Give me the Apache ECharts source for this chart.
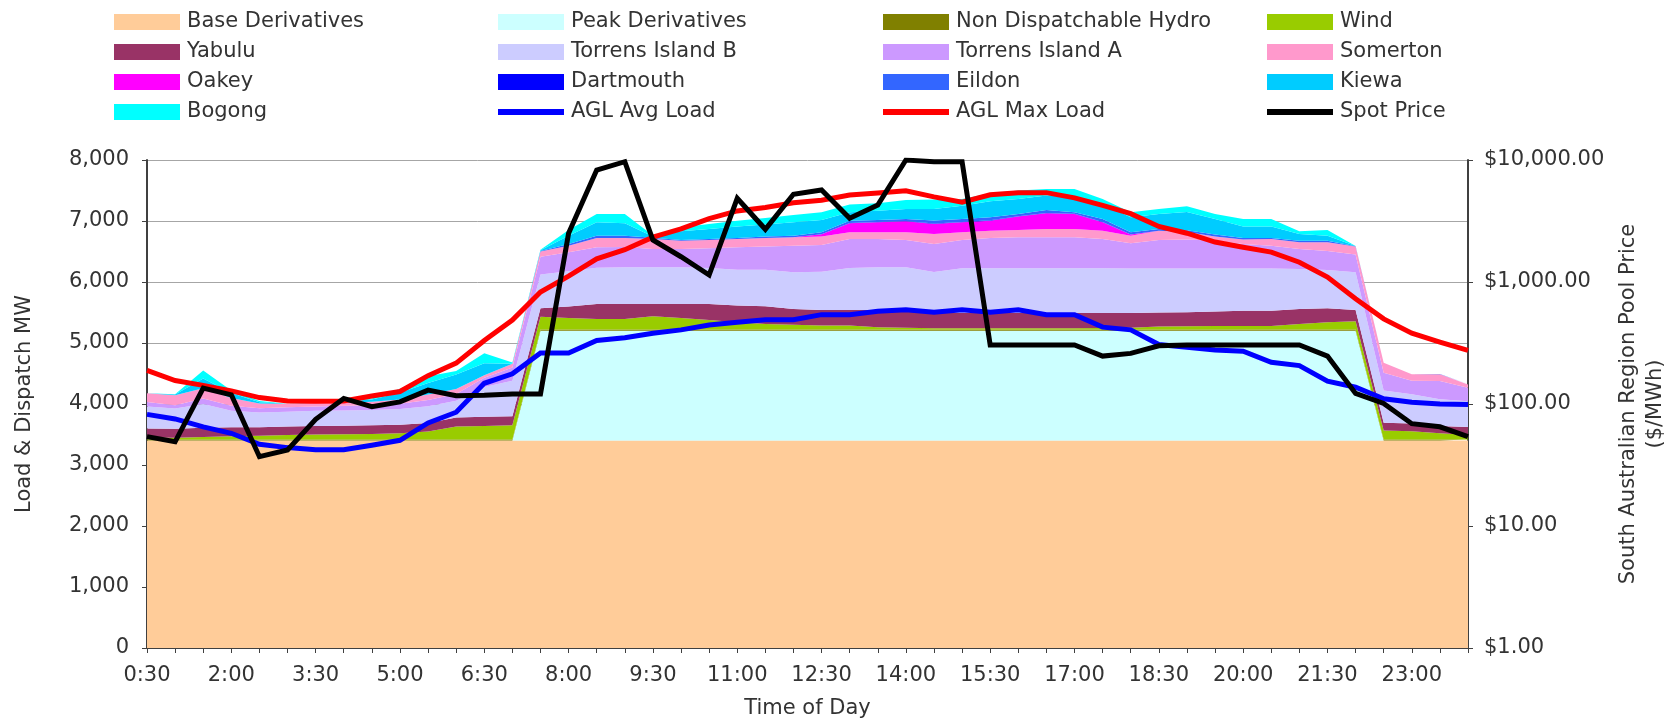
<!DOCTYPE html>
<html>
<head>
<meta charset="utf-8">
<script src="https://cdn.jsdelivr.net/npm/echarts@6/dist/echarts.min.js"></script>
<style>
html,body{margin:0;padding:0;background:#fff;}
#chart{width:1665px;height:720px;}
</style>
</head>
<body>
<div id="chart"></div>
<script>
const categories = ["0:30","1:00","1:30","2:00","2:30","3:00","3:30","4:00","4:30","5:00","5:30","6:00","6:30","7:00","7:30","8:00","8:30","9:00","9:30","10:00","10:30","11:00","11:30","12:00","12:30","13:00","13:30","14:00","14:30","15:00","15:30","16:00","16:30","17:00","17:30","18:00","18:30","19:00","19:30","20:00","20:30","21:00","21:30","22:00","22:30","23:00","23:30","0:00"];

const baseDerivatives = [3400,3400,3400,3400,3400,3400,3400,3400,3400,3400,3400,3400,3400,3400,3400,3400,3400,3400,3400,3400,3400,3400,3400,3400,3400,3400,3400,3400,3400,3400,3400,3400,3400,3400,3400,3400,3400,3400,3400,3400,3400,3400,3400,3400,3400,3400,3400,3400];
const peakDerivatives = [0,0,0,0,0,0,0,0,0,0,0,0,0,0,1800,1800,1800,1800,1800,1800,1800,1800,1800,1800,1800,1800,1800,1800,1800,1800,1800,1800,1800,1800,1800,1800,1800,1800,1800,1800,1800,1800,1800,1800,0,0,0,0];
const nonDispatchableHydro = [20,20,20,20,20,20,20,20,20,20,20,20,20,20,20,20,20,20,20,20,20,20,20,20,20,20,20,20,20,20,20,20,20,20,20,20,20,20,20,20,20,20,20,20,20,20,20,20];
const wind = [30,25,40,50,60,70,80,85,90,100,130,210,220,230,210,190,175,175,220,190,158,120,92,81,65,65,38,30,20,20,20,20,20,20,25,30,50,55,60,60,60,92,120,136,145,135,100,70];
const yabulu = [150,150,150,150,140,140,140,140,140,140,140,150,150,150,140,190,245,245,200,230,262,273,290,257,257,257,284,270,250,250,250,250,250,250,245,240,230,230,235,250,250,246,229,186,126,126,120,131];
const torrensIslandB = [360,330,390,270,240,245,250,250,250,260,274,275,490,580,555,576,595,601,601,601,590,587,598,602,628,688,698,720,675,735,735,735,735,735,735,730,720,715,705,690,690,656,629,617,530,480,437,426];
const torrensIslandA = [71,55,90,80,70,70,70,75,80,85,100,110,150,220,290,311,334,334,300,301,323,369,380,436,437,476,466,449,459,464,497,508,508,508,481,415,469,475,458,404,376,328,310,290,290,219,300,219];
const somerton = [147,164,170,130,80,60,60,50,55,70,90,80,40,60,85,109,153,147,165,136,136,137,142,137,137,109,109,126,164,126,120,120,137,137,136,125,153,126,66,71,110,109,143,131,164,109,109,55];
const oakey = [0,0,0,0,0,0,0,0,0,0,0,0,0,0,0,0,0,0,0,0,0,0,0,0,40,148,165,180,164,164,164,219,257,245,137,17,0,0,0,0,0,0,0,0,0,0,0,0];
const dartmouth = [0,0,0,0,0,0,0,0,0,0,0,0,0,0,0,0,0,0,0,0,0,0,0,0,0,5,5,5,5,5,5,5,5,5,5,0,0,0,0,0,0,0,0,0,0,0,0,0];
const eildon = [0,0,0,0,0,0,0,0,0,0,0,0,0,0,10,28,38,38,20,12,17,16,22,27,31,38,32,33,50,49,50,38,49,23,49,38,28,27,33,27,16,27,27,5,0,0,5,5];
const kiewa = [0,10,160,80,20,0,10,20,40,110,190,240,200,0,10,136,219,203,20,142,164,186,197,219,202,137,153,164,191,219,262,247,235,246,247,246,245,301,256,186,186,110,82,5,0,0,0,0];
const bogong = [0,5,130,40,20,0,0,0,15,65,110,55,160,20,10,93,137,153,15,65,82,98,109,120,126,126,121,148,154,110,131,136,109,136,82,82,82,93,82,125,125,44,93,0,0,0,0,0];

const aglAvgLoad = [3830,3755,3625,3520,3340,3285,3250,3250,3325,3405,3690,3865,4340,4495,4835,4835,5040,5085,5160,5215,5295,5340,5380,5380,5465,5465,5520,5545,5505,5545,5505,5545,5465,5465,5260,5215,4975,4930,4885,4865,4685,4630,4375,4275,4085,4030,4000,3990];
const aglMaxLoad = [4550,4385,4305,4215,4105,4050,4045,4050,4130,4205,4465,4670,5040,5375,5835,6095,6380,6530,6735,6870,7040,7165,7220,7300,7340,7425,7460,7495,7395,7310,7430,7465,7465,7380,7255,7120,6910,6800,6655,6570,6490,6325,6080,5725,5395,5160,5015,4880];
const spotPrice = [54,49,135,119,37,42,75,111,95,104,130,117,118,121,121,2506,8280,9680,2209,1611,1141,4854,2704,5236,5680,3326,4276,10000,9680,9680,305,305,305,305,247,260,300,305,305,305,305,305,247,122,101,69,65,54];

const leftTickLabels = ["0","1,000","2,000","3,000","4,000","5,000","6,000","7,000","8,000"];
const priceTickValues = [1,10,100,1000,10000];
const priceTickLabels = ["$1.00","$10.00","$100.00","$1,000.00","$10,000.00"];

const FONT = 'DejaVu Sans';
const TXT = '#333333';
const AXIS = '#404040';

const areaDefs = [
  ['Base Derivatives', baseDerivatives, '#FFCC99'],
  ['Peak Derivatives', peakDerivatives, '#CCFFFF'],
  ['Non Dispatchable Hydro', nonDispatchableHydro, '#808000'],
  ['Wind', wind, '#99CC00'],
  ['Yabulu', yabulu, '#993366'],
  ['Torrens Island B', torrensIslandB, '#CCCCFF'],
  ['Torrens Island A', torrensIslandA, '#CC99FF'],
  ['Somerton', somerton, '#FF99CC'],
  ['Oakey', oakey, '#FF00FF'],
  ['Dartmouth', dartmouth, '#0000FF'],
  ['Eildon', eildon, '#3366FF'],
  ['Kiewa', kiewa, '#00CCFF'],
  ['Bogong', bogong, '#00FFFF']
];
const lineDefs = [
  ['AGL Avg Load', aglAvgLoad, '#0000FF', 0],
  ['AGL Max Load', aglMaxLoad, '#FF0000', 0],
  ['Spot Price', spotPrice, '#000000', 1]
];

const series = [];
areaDefs.forEach(([name, data, color]) => {
  series.push({
    name, type: 'line', stack: 'dispatch', data,
    symbol: 'none', smooth: false,
    itemStyle: {color},
    lineStyle: {width: 0, color},
    areaStyle: {color, opacity: 1},
    emphasis: {disabled: true},
    z: 2
  });
});
lineDefs.forEach(([name, data, color, axis]) => {
  series.push({
    name, type: 'line', data, yAxisIndex: axis,
    symbol: 'none', smooth: false,
    itemStyle: {color},
    lineStyle: {width: 5, color, join: 'miter'},
    emphasis: {disabled: true},
    z: 5
  });
});

const lineIcon = 'path://M0,0L66,0L66,6L0,6Z';
const legendCols = [
  ['Base Derivatives','Yabulu','Oakey','Bogong'],
  ['Peak Derivatives','Torrens Island B','Dartmouth','AGL Avg Load'],
  ['Non Dispatchable Hydro','Torrens Island A','Eildon','AGL Max Load'],
  ['Wind','Somerton','Kiewa','Spot Price']
];
const lineNames = lineDefs.map(d => d[0]);
const legendLefts = [114, 498, 883, 1267];
const legends = legendCols.map((col, i) => ({
  orient: 'vertical',
  left: legendLefts[i],
  top: 11,
  padding: 0,
  itemWidth: 66,
  itemHeight: 16,
  itemGap: 8,
  selectedMode: false,
  itemStyle: {borderWidth: 0},
  textStyle: {fontFamily: FONT, fontSize: 21, color: TXT, lineHeight: 22, padding: [0,0,0,2]},
  data: col.map(n => ({name: n, icon: lineNames.includes(n) ? lineIcon : 'rect'}))
}));

const chart = echarts.init(document.getElementById('chart'), null, {renderer: 'canvas'});
chart.setOption({
  animation: false,
  backgroundColor: '#ffffff',
  textStyle: {fontFamily: FONT},
  legend: legends,
  grid: {left: 147, right: 197, top: 160, bottom: 72, containLabel: false, outerBoundsMode: 'none'},
  xAxis: {
    type: 'category',
    data: categories,
    boundaryGap: false,
    axisLine: {show: true, lineStyle: {color: AXIS, width: 2}},
    axisTick: {show: true, interval: 0, length: 5, lineStyle: {color: AXIS}},
    axisLabel: {interval: 2, fontFamily: FONT, fontSize: 21, color: TXT, margin: 17},
    splitLine: {show: false},
    name: 'Time of Day',
    nameLocation: 'middle',
    nameGap: 50,
    nameTextStyle: {fontFamily: FONT, fontSize: 21, color: TXT}
  },
  yAxis: [
    {
      type: 'value', min: 0, max: 8000, interval: 1000,
      axisLine: {show: true, lineStyle: {color: AXIS, width: 2}},
      axisTick: {show: true, length: 5, lineStyle: {color: AXIS}},
      axisLabel: {fontFamily: FONT, fontSize: 21, color: TXT, margin: 18,
        formatter: v => leftTickLabels[Math.round(v / 1000)]},
      splitLine: {show: true, lineStyle: {color: '#a6a6a6', width: 1}},
      name: 'Load & Dispatch MW',
      nameLocation: 'middle',
      nameRotate: 90,
      nameGap: 112,
      nameTextStyle: {fontFamily: FONT, fontSize: 21, color: TXT}
    },
    {
      type: 'log', logBase: 10, min: 1, max: 10000,
      position: 'right',
      axisLine: {show: true, lineStyle: {color: AXIS, width: 2}},
      axisTick: {show: true, length: 5, lineStyle: {color: AXIS}},
      axisLabel: {fontFamily: FONT, fontSize: 21, color: TXT, margin: 16,
        formatter: v => {
          const i = priceTickValues.findIndex(t => Math.abs(Math.log10(t) - Math.log10(v)) < 1e-6);
          return i >= 0 ? priceTickLabels[i] : '';
        }},
      splitLine: {show: false},
      name: 'South Australian Region Pool Price\n($/MWh)',
      nameLocation: 'middle',
      nameRotate: 90,
      nameGap: 145,
      nameTextStyle: {fontFamily: FONT, fontSize: 21, color: TXT, lineHeight: 27, align: 'center'}
    }
  ],
  series
});
</script>
</body>
</html>
